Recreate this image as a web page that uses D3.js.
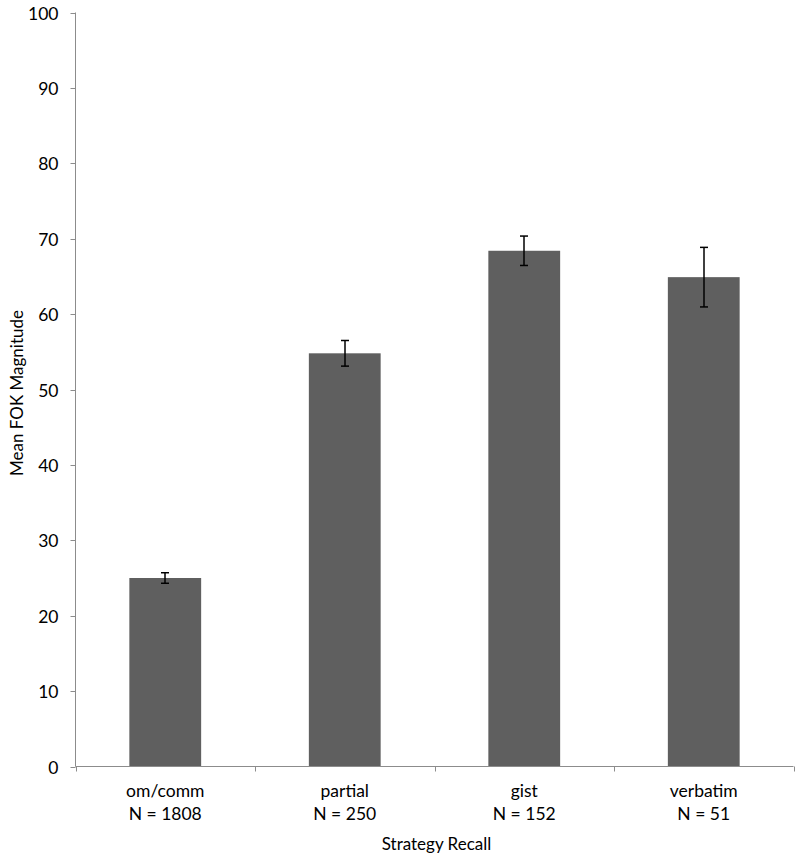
<!DOCTYPE html>
<html><head><meta charset="utf-8">
<script src="https://cdn.jsdelivr.net/npm/d3@7"></script>
<style>body{margin:0;background:#fff;} text{font-family:Lato,"Open Sans",sans-serif;fill:#000;}</style>
</head><body><svg id="c" width="800" height="856"></svg>
<script>
const categories = ["om/comm", "partial", "gist", "verbatim"];
const counts = ["N = 1808", "N = 250", "N = 152", "N = 51"];
const means = [25.0, 54.8, 68.4, 64.9];
const errors = [0.7, 1.7, 1.95, 3.95];
const yTicks = [0,10,20,30,40,50,60,70,80,90,100];

const svg = d3.select("#c");
const mL = 75.5, mR = 793.5, mT = 12.5, mB = 766.5;
const fs = 17.5;
const x = d3.scaleBand().domain(categories).range([mL, mR]).paddingInner(0.6).paddingOuter(0.3);
const xb = d3.scaleBand().domain(categories).range([mL, mR]);
const y = d3.scaleLinear().domain([0, 100]).range([mB, mT]);

// bars
svg.selectAll("rect.bar").data(categories).join("rect")
  .attr("x", d => x(d)).attr("width", x.bandwidth())
  .attr("y", (d,i) => y(means[i])).attr("height", (d,i) => y(0) - y(means[i]))
  .attr("fill", "#5f5f5f");

// y axis
svg.append("line").attr("x1", mL).attr("x2", mL).attr("y1", mT).attr("y2", mB).attr("stroke", "#8c8c8c");
const yg = svg.append("g");
yTicks.forEach(t => {
  const yy = Math.round(y(t)) + 0.5;
  yg.append("line").attr("x1", mL - 5).attr("x2", mL).attr("y1", yy).attr("y2", yy).attr("stroke", "#8c8c8c");
  yg.append("text").attr("x", mL - 17).attr("y", yy).attr("dy", "0.35em").attr("text-anchor", "end").attr("font-size", fs).text(t);
});

// x axis
svg.append("line").attr("x1", mL).attr("x2", mR).attr("y1", mB).attr("y2", mB).attr("stroke", "#8c8c8c");
const xTickPos = categories.map(c => xb(c)).concat([mR]);
xTickPos.forEach(p => {
  const xx = Math.round(p) + 0.5;
  svg.append("line").attr("x1", xx).attr("x2", xx).attr("y1", mB).attr("y2", mB + 5).attr("stroke", "#8c8c8c");
});
categories.forEach((c, i) => {
  const cx = x(c) + x.bandwidth() / 2;
  svg.append("text").attr("x", cx).attr("y", 797).attr("text-anchor", "middle").attr("font-size", fs).text(c);
  svg.append("text").attr("x", cx).attr("y", 819.5).attr("text-anchor", "middle").attr("font-size", fs).text(counts[i]);
});

// error bars
categories.forEach((c, i) => {
  const cx = Math.round(x(c) + x.bandwidth() / 2);
  const y1 = y(means[i] + errors[i]), y2 = y(means[i] - errors[i]);
  const g = svg.append("g").attr("stroke", "#000").attr("stroke-width", 1.5);
  g.append("line").attr("x1", cx).attr("x2", cx).attr("y1", y1).attr("y2", y2);
  g.append("line").attr("x1", cx - 4).attr("x2", cx + 4).attr("y1", y1).attr("y2", y1);
  g.append("line").attr("x1", cx - 4).attr("x2", cx + 4).attr("y1", y2).attr("y2", y2);
});

// axis titles
svg.append("text").attr("x", 436.5).attr("y", 850).attr("text-anchor", "middle").attr("font-size", 17).text("Strategy Recall");
svg.append("text").attr("transform", "translate(23,393) rotate(-90)").attr("text-anchor", "middle").attr("font-size", 17).text("Mean FOK Magnitude");
</script></body></html>
